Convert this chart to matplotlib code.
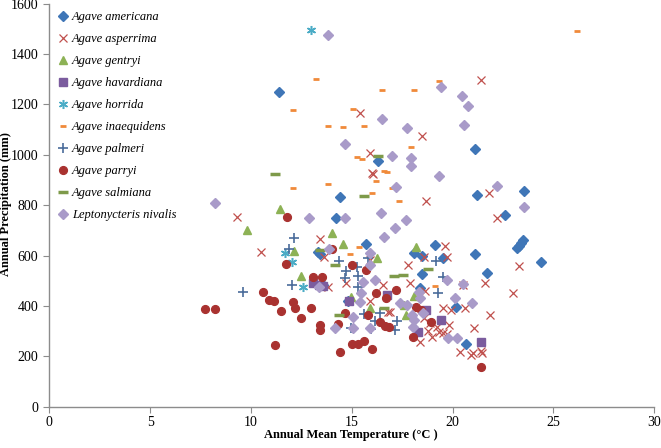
import matplotlib
matplotlib.use('Agg')
import matplotlib.pyplot as plt

# ── Data ──────────────────────────────────────────────────────────────────────
americana_t = [11.4, 16.3, 14.4, 14.2, 15.7, 19.1, 21.1, 21.2, 23.55, 22.6, 23.5, 23.4,
               23.2, 23.3, 24.4, 21.7, 21.1, 18.5, 19.5, 18.1, 18.5, 20.15, 20.65,
               13.3, 13.4, 13.55, 14.8, 18.4]
americana_p = [1250, 975, 833, 748, 645, 642, 1025, 841, 857, 761, 661, 650,
               632, 640, 575, 532, 605, 598, 589, 611, 525, 397, 249,
               615, 605, 484, 419, 472]

asperrima_t = [9.3, 10.5, 13.4, 13.6, 21.4, 15.4, 18.5, 15.9, 16.0, 16.05, 18.7, 21.8,
               22.2, 19.6, 19.7, 17.8, 23.3, 21.6, 23.0, 20.5, 17.9, 18.65, 21.85,
               20.6, 19.5, 19.9, 21.05, 20.35, 20.9, 21.0, 21.45, 21.4, 18.4, 18.6,
               18.8, 18.9, 19.2, 19.5, 19.0, 19.3, 19.7, 19.8, 16.8, 15.9, 14.7,
               15.9, 16.55, 18.6, 16.9, 13.8]
asperrima_p = [754, 615, 664, 595, 1299, 1168, 1075, 1008, 929, 925, 816, 849,
               748, 640, 593, 562, 560, 492, 452, 483, 490, 460, 363,
               390, 390, 384, 311, 218, 205, 212, 212, 222, 258, 353,
               302, 331, 316, 292, 278, 298, 287, 324, 375, 419, 492,
               582, 483, 595, 377, 474]

gentryi_t = [9.8, 11.45, 14.0, 14.55, 18.2, 12.15, 12.5, 16.25, 14.95, 15.9, 17.7, 18.1, 17.6]
gentryi_p = [701, 783, 690, 644, 633, 620, 519, 590, 435, 390, 364, 440, 404]

havardiana_t = [13.1, 13.35, 13.55, 14.85, 16.75, 18.7, 19.4, 18.3, 21.4]
havardiana_p = [490, 483, 480, 418, 443, 384, 344, 295, 258]

horrida_t = [13.0, 11.7, 12.05, 12.6]
horrida_p = [1497, 609, 573, 474]

inaequidens_t = [13.8, 14.55, 15.6, 15.25, 15.5, 17.95, 16.6, 16.75, 16.2, 13.8, 12.1,
                 16.0, 17.0, 17.35, 13.2, 12.1, 16.5, 18.1, 19.3, 15.05, 26.15,
                 15.35, 14.9, 19.1]
inaequidens_p = [1115, 1109, 1115, 990, 984, 1030, 937, 933, 896, 883, 867,
                 849, 867, 817, 1303, 1177, 1259, 1259, 1292, 1181, 1492,
                 635, 605, 479]

palmeri_t = [9.6, 12.05, 12.15, 11.9, 14.35, 14.7, 15.25, 15.3, 14.65, 15.3, 15.8,
             15.95, 16.4, 17.15, 17.25, 19.25, 19.5, 19.15, 14.95, 16.15, 15.6]
palmeri_p = [456, 483, 671, 628, 580, 540, 556, 517, 509, 476, 589,
             308, 371, 303, 340, 450, 515, 577, 313, 340, 367]

parryi_t = [7.7, 8.2, 10.6, 10.9, 11.15, 11.5, 12.1, 12.2, 12.5, 13.0, 13.1, 13.5,
            13.4, 13.4, 11.2, 11.75, 11.8, 14.3, 14.65, 15.8, 16.4, 16.65, 16.85,
            15.0, 15.3, 15.6, 16.0, 14.4, 16.7, 14.0, 15.0, 15.7, 17.2, 16.2,
            18.05, 18.2, 18.45, 18.95, 21.4]
parryi_p = [388, 388, 456, 425, 420, 380, 417, 391, 354, 391, 516, 516,
            326, 304, 243, 566, 754, 327, 372, 364, 337, 322, 317,
            249, 249, 260, 229, 217, 433, 625, 562, 541, 465, 452,
            278, 397, 384, 337, 159]

salmiana_t = [11.2, 16.3, 15.6, 13.4, 14.15, 17.1, 17.55, 18.8, 16.6, 14.35]
salmiana_p = [922, 995, 837, 622, 562, 520, 523, 545, 390, 364]

nivalis_t = [8.2, 13.8, 14.65, 16.5, 17.75, 17.0, 17.95, 17.95, 19.3, 17.2, 19.4,
             20.45, 20.75, 20.55, 22.2, 12.9, 14.65, 16.45, 17.15, 17.7, 16.6,
             23.55, 13.85, 15.9, 15.55, 16.15, 15.45, 15.05, 14.15, 15.05, 17.4,
             17.75, 18.0, 18.35, 18.4, 19.7, 20.5, 20.1, 20.95, 20.2, 19.75,
             18.55, 18.1, 18.05, 15.9, 15.4, 15.9, 13.35]
nivalis_p = [809, 1475, 1045, 1142, 1107, 995, 986, 956, 915, 873, 1270,
             1233, 1193, 1120, 875, 748, 750, 770, 710, 740, 675,
             791, 628, 610, 496, 503, 450, 357, 311, 311, 413,
             403, 364, 456, 430, 505, 488, 430, 410, 272, 274,
             371, 344, 317, 311, 417, 562, 476]

# ── Styles ────────────────────────────────────────────────────────────────────
series = [
    ("Agave americana",        americana_t,   americana_p,   dict(marker='D', ms=4.6, color='#3F76B7', mec='#3F76B7')),
    ("Agave asperrima",        asperrima_t,   asperrima_p,   dict(marker='x', ms=6.0, color='#C0504D', mew=0.9)),
    ("Agave gentryi",          gentryi_t,     gentryi_p,     dict(marker='^', ms=6.0, color='#8DB255', mec='#8DB255')),
    ("Agave havardiana",       havardiana_t,  havardiana_p,  dict(marker='s', ms=5.5, color='#7B5C9E', mec='#7B5C9E')),
    ("Agave horrida",          horrida_t,     horrida_p,     dict(marker=(6, 2, 0), ms=6.5, color='#4BACC6', mew=1.1)),
    ("Agave inaequidens",      inaequidens_t, inaequidens_p, dict(marker='_', ms=4.0, color='#F08A3A', mew=2.0)),
    ("Agave palmeri",          palmeri_t,     palmeri_p,     dict(marker='+', ms=6.5, color='#4A6C9B', mew=1.2)),
    ("Agave parryi",           parryi_t,      parryi_p,      dict(marker='o', ms=5.6, color='#A93230', mec='#A93230')),
    ("Agave salmiana",         salmiana_t,    salmiana_p,    dict(marker='_', ms=7.5, color='#7E9A4A', mew=2.5)),
    ("Leptonycteris nivalis",  nivalis_t,     nivalis_p,     dict(marker='D', ms=4.6, color='#A99BC9', mec='#A99BC9')),
]

plt.rcParams['font.family'] = ['Liberation Serif', 'DejaVu Serif']

fig = plt.figure(figsize=(6.61, 4.48), dpi=100)
ax = fig.add_axes([0.0746, 0.0922, 0.9153, 0.8995])

for label, t, p, style in series:
    ax.plot(t, p, linestyle='none', label=label, **style)

ax.set_xlim(0, 30)
ax.set_ylim(0, 1600)
ax.set_xticks(range(0, 31, 5))
ax.set_yticks(range(0, 1601, 200))

for side in ('top', 'right'):
    ax.spines[side].set_visible(False)
for side in ('left', 'bottom'):
    ax.spines[side].set_color('#8C8C8C')
    ax.spines[side].set_linewidth(1.0)
ax.tick_params(direction='out', length=4, color='#8C8C8C', labelsize=10, pad=3)
ax.tick_params(axis='y', pad=4)

# axis titles placed in figure coords (they sit tight to the edges)
fig.text(0.531, 0.029, "Annual Mean Temperature (°C )", fontsize=9,
         fontweight='bold', ha='center', va='center')
fig.text(0.0095, 0.545, "Annual Precipitation (mm)", fontsize=9,
         fontweight='bold', ha='center', va='center', rotation=90)

leg = ax.legend(loc='upper left', bbox_to_anchor=(0.0, 1.003), frameon=False,
                prop={'style': 'italic', 'size': 9}, handlelength=0.8,
                handletextpad=0.3, labelspacing=0.8, borderaxespad=0.3,
                numpoints=1)

fig.savefig('out.png', dpi=100)
